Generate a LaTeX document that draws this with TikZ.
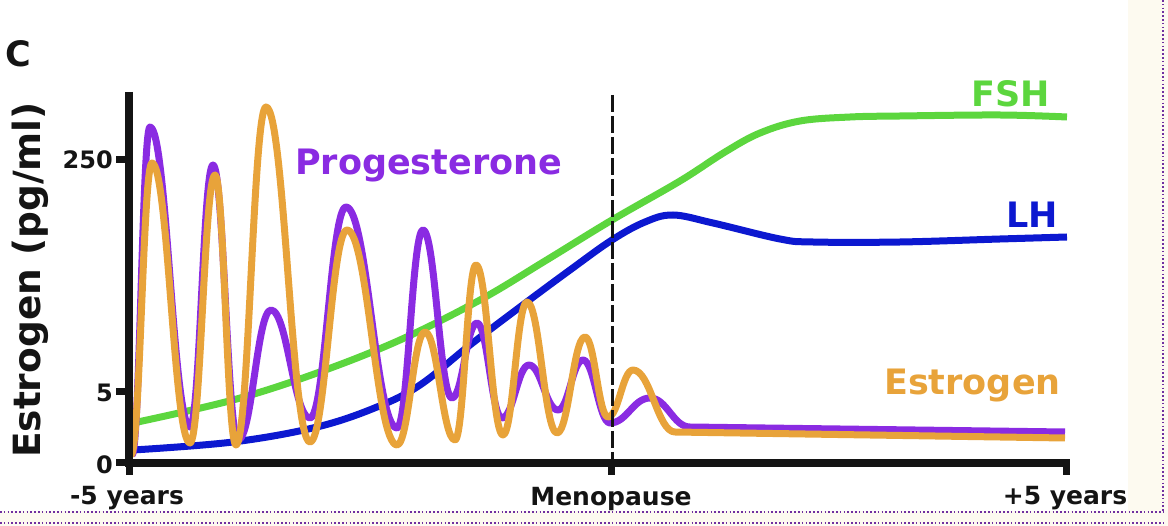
\documentclass[tikz,border=0pt]{standalone}
\usepackage{fontspec}
\setmainfont{DejaVu Sans}
\definecolor{prog}{RGB}{138,43,226}
\definecolor{estr}{RGB}{232,163,58}
\definecolor{fsh}{RGB}{92,214,62}
\definecolor{lh}{RGB}{12,24,208}
\definecolor{beige}{RGB}{253,250,240}
\definecolor{framec}{RGB}{112,48,160}
\definecolor{ink}{RGB}{20,20,20}
\begin{document}
\begin{tikzpicture}[x=1pt,y=-1pt,
  curve/.style={line width=7pt, line join=round, line cap=butt},
  axisline/.style={line width=8pt, ink, line cap=butt},
  tickline/.style={line width=7pt, ink, line cap=butt},
  lbl/.style={font=\bfseries\fontsize{35}{35}\selectfont, inner sep=0pt},
  ticklbl/.style={font=\bfseries\fontsize{24}{24}\selectfont, inner sep=0pt, ink, anchor=east},
  xlbl/.style={font=\bfseries\fontsize{25}{25}\selectfont, inner sep=0pt, ink, anchor=base},
  dotline/.style={framec, line width=1.6pt, dash pattern=on 1.6pt off 2.2pt},
  dashline/.style={ink, line width=3pt, dash pattern=on 17pt off 4pt}]
\useasboundingbox (0,0) rectangle (1168,526);
% page background
\fill[beige] (1128,0) rectangle (1168,526);
\fill[beige] (0,511) rectangle (1168,526);
\draw[dotline] (1163,0) -- (1163,512);
\draw[dotline] (0,512) -- (1163,512);
\draw[dotline] (0,523) -- (1163,523);
% FSH
\draw[curve, fsh] plot[smooth, tension=0.6] coordinates {(133,423) (233,400) (317,373) (400,340) (480,300) (545,261) (612,220) (680,181) (725,152) (760,133) (800,121) (850,117) (900,116) (1000,115) (1067,117)};
% LH
\draw[curve, lh] plot[smooth, tension=0.6] coordinates {(133,450) (233,442) (317,427) (377,407) (420,385) (470,345) (520,307) (570,270) (612,240) (645,222) (673,215) (713,223) (780,239) (813,242) (900,242) (1000,239) (1067,237)};
% Progesterone
\draw[curve, prog] (132,455)
 .. controls +(7.6,0) and +(-7.6,0) .. (150,127)
 .. controls +(16.8,0) and +(-16.8,0) .. (190,427)
 .. controls +(9.7,0) and +(-9.7,0) .. (213,165)
 .. controls +(10.5,0) and +(-10.5,0) .. (238,440)
 .. controls +(13.9,0) and +(-13.9,0) .. (271,310)
 .. controls +(16.4,0) and +(-16.4,0) .. (310,418)
 .. controls +(15.1,0) and +(-15.1,0) .. (346,207)
 .. controls +(21.4,0) and +(-21.4,0) .. (397,428)
 .. controls +(10.9,0) and +(-10.9,0) .. (423,230)
 .. controls +(12.2,0) and +(-12.2,0) .. (452,398)
 .. controls +(10.5,0) and +(-10.5,0) .. (477,323)
 .. controls +(10.5,0) and +(-10.5,0) .. (502,418)
 .. controls +(11.3,0) and +(-11.3,0) .. (529,365)
 .. controls +(12.2,0) and +(-12.2,0) .. (558,410)
 .. controls +(10.5,0) and +(-10.5,0) .. (583,360)
 .. controls +(11.3,0) and +(-11.3,0) .. (610,423)
 .. controls +(16.8,0) and +(-16.8,0) .. (650,398)
 .. controls +(16.8,0) and +(-16.8,0) .. (690,427)
 -- (1065,432);
% Estrogen
\draw[curve, estr] (131,455)
 .. controls +(8.8,0) and +(-8.8,0) .. (152,163)
 .. controls +(16,0) and +(-16,0) .. (190,443)
 .. controls +(10.5,0) and +(-10.5,0) .. (215,175)
 .. controls +(8.8,0) and +(-8.8,0) .. (236,445)
 .. controls +(12.6,0) and +(-12.6,0) .. (266,107)
 .. controls +(18.5,0) and +(-18.5,0) .. (310,442)
 .. controls +(15.5,0) and +(-15.5,0) .. (347,230)
 .. controls +(21,0) and +(-21,0) .. (397,445)
 .. controls +(11.8,0) and +(-11.8,0) .. (425,332)
 .. controls +(12.6,0) and +(-12.6,0) .. (455,440)
 .. controls +(8.8,0) and +(-8.8,0) .. (476,265)
 .. controls +(11.3,0) and +(-11.3,0) .. (503,435)
 .. controls +(10.1,0) and +(-10.1,0) .. (527,302)
 .. controls +(12.6,0) and +(-12.6,0) .. (557,433)
 .. controls +(11.8,0) and +(-11.8,0) .. (585,337)
 .. controls +(9.7,0) and +(-9.7,0) .. (608,417)
 .. controls +(10.5,0) and +(-10.5,0) .. (633,370)
 .. controls +(17.6,0) and +(-17.6,0) .. (675,432)
 -- (1065,438);
% menopause line
\coordinate (mtop) at (612,95);
\coordinate (mbot) at (612,463);
\draw[dashline] (mtop) -- (mbot);
% axes
\coordinate (origin) at (129,463);
\coordinate (ytop) at (129,92);
\coordinate (xend) at (1070,463);
\draw[axisline] (129,92) -- (129,467);
\draw[axisline] (125,463) -- (xend);
\draw[tickline] (116,160) -- (126,160);
\draw[tickline] (116,392) -- (126,392);
\draw[tickline] (116,463) -- (126,463);
\draw[tickline] (129,463) -- (129,475);
\draw[tickline] (611,463) -- (611,475);
\draw[tickline] (1066,463) -- (1066,475);
% tick labels
\node[ticklbl] (t250) at (113,160) {250};
\node[ticklbl] (t5) at (113,393) {5};
\node[ticklbl] (t0) at (113,465) {0};
\node[xlbl] (xm5) at (127,504) {-5 years};
\node[xlbl] (xmen) at (611,505) {Menopause};
\node[xlbl] (xp5) at (1065,504) {+5 years};
% axis title and panel letter
\node[font=\bfseries\fontsize{37.5}{37.5}\selectfont, inner sep=0pt, ink, rotate=90, anchor=base] (ylab) at (40,280) {Estrogen (pg/ml)};
\node[font=\bfseries\fontsize{35}{35}\selectfont, inner sep=0pt, ink, anchor=base west] (panel) at (5,67) {C};
% curve labels
\node[lbl, prog, anchor=base west] (progl) at (295,175) {Progesterone};
\node[lbl, fsh, anchor=base west] (fshl) at (971,107) {FSH};
\node[lbl, lh, anchor=base west] (lhl) at (1006,228) {LH};
\node[lbl, estr, anchor=base west] (estl) at (884,395) {Estrogen};
\end{tikzpicture}
\end{document}
